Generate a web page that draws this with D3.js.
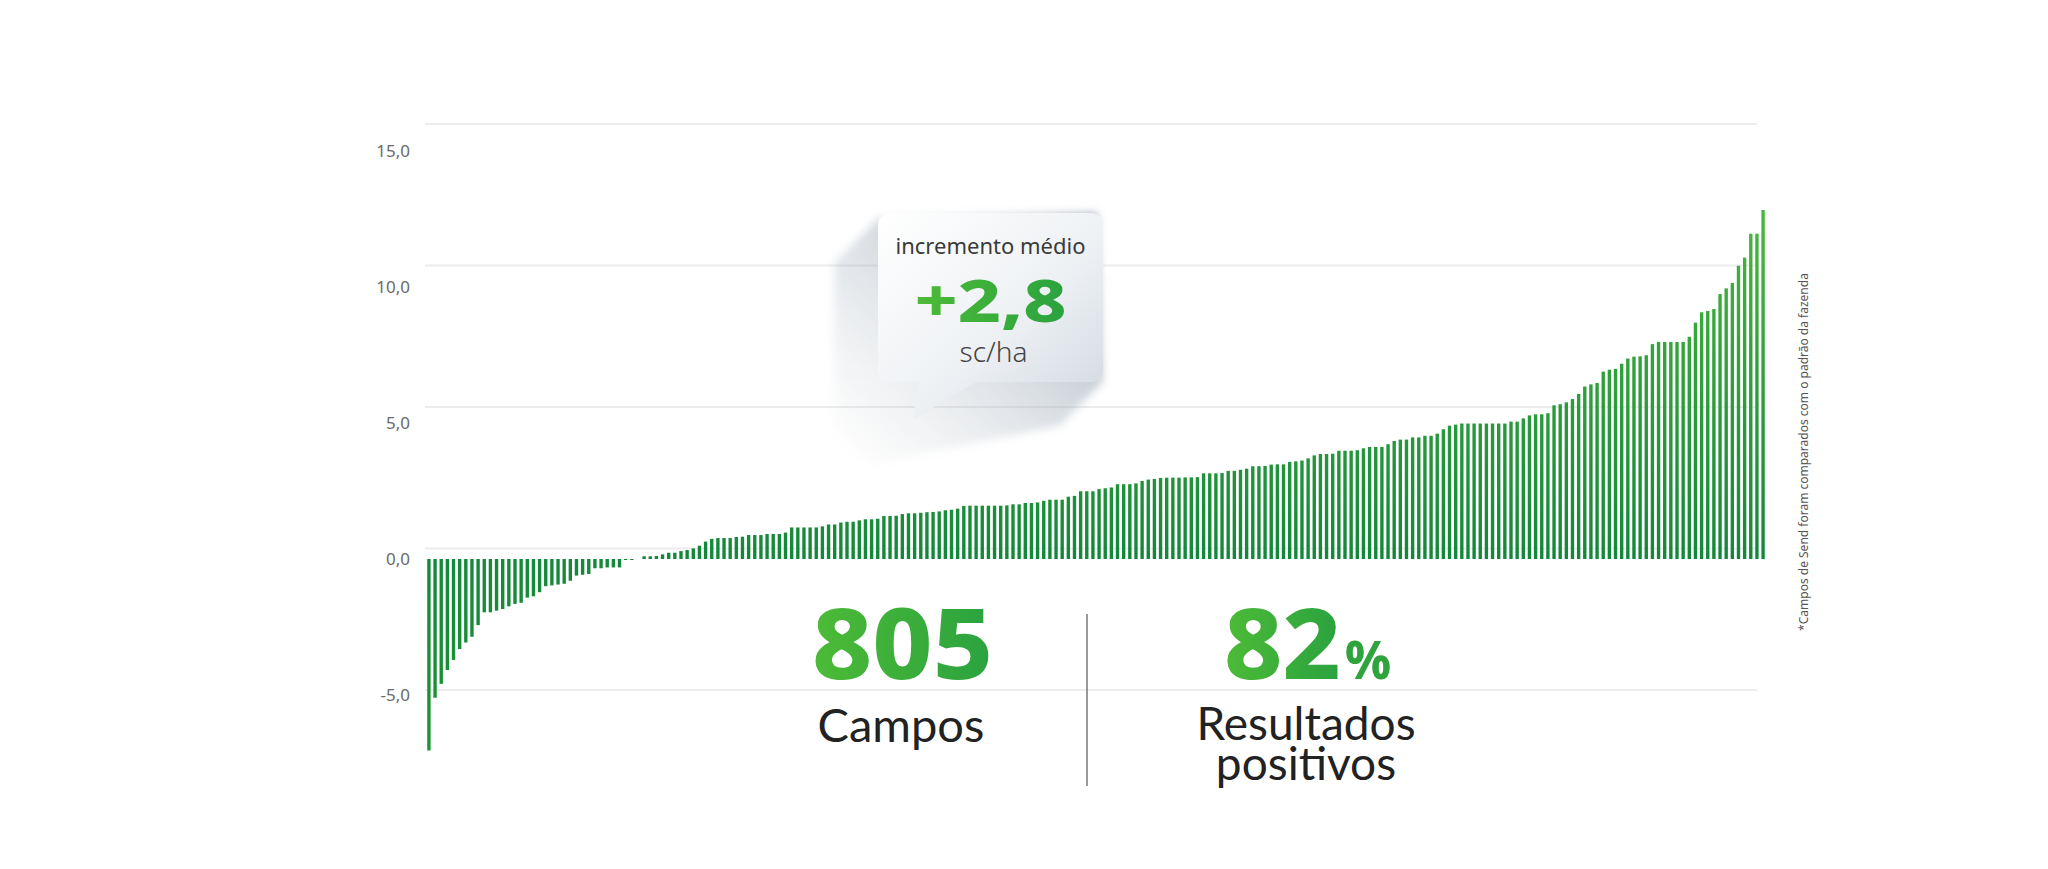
<!DOCTYPE html>
<html lang="pt-BR">
<head>
<meta charset="utf-8">
<title>Incremento médio</title>
<script src="https://cdn.jsdelivr.net/npm/d3@7"></script>
<style>
  html, body { margin: 0; padding: 0; background: #ffffff; }
  #chart { width: 2048px; height: 869px; }
  svg text { font-family: "Noto Sans", "DejaVu Sans", sans-serif; }
</style>
</head>
<body>
<div id="chart"></div>
<script>
// sorted field results (sc/ha) in four stretches
const fieldsLow = [
  -7.04, -5.10, -4.59, -4.08, -3.71, -3.31, -3.07, -2.86, -2.43, -1.96,
  -1.96, -1.90, -1.84, -1.74, -1.65, -1.61, -1.42, -1.37, -1.22, -1.00,
  -0.97, -0.94, -0.91, -0.80, -0.61, -0.58, -0.55, -0.34, -0.34, -0.31,
  -0.31, -0.31, -0.03, -0.03, 0.00, 0.10, 0.10, 0.11, 0.17, 0.23,
  0.23, 0.29, 0.33, 0.39
];
const fieldsMidLow = [
  0.49, 0.64, 0.74, 0.77, 0.77, 0.77, 0.81, 0.82, 0.88, 0.88,
  0.88, 0.92, 0.92, 0.92, 0.97, 1.16, 1.16, 1.16, 1.16, 1.16,
  1.20, 1.27, 1.27, 1.34, 1.37, 1.37, 1.42, 1.46, 1.46, 1.48,
  1.58, 1.58, 1.59, 1.65, 1.68, 1.68, 1.70, 1.72, 1.73, 1.75,
  1.79, 1.81, 1.85, 1.95, 1.96, 1.96, 1.96, 1.96, 1.96, 1.96,
  1.97, 2.01, 2.01, 2.06, 2.06, 2.08, 2.14, 2.18
];
const fieldsMidHigh = [
  2.18, 2.18, 2.29, 2.32, 2.49, 2.49, 2.49, 2.57, 2.60, 2.63,
  2.75, 2.75, 2.75, 2.78, 2.87, 2.92, 2.94, 2.98, 2.99, 2.99,
  2.99, 3.00, 3.00, 3.01, 3.15, 3.15, 3.15, 3.16, 3.24, 3.24,
  3.28, 3.32, 3.41, 3.41, 3.42, 3.47, 3.48, 3.48, 3.57, 3.59,
  3.62, 3.70, 3.81, 3.86, 3.86, 3.87, 3.98, 3.98, 3.98, 4.00,
  4.07, 4.12, 4.12, 4.12, 4.22, 4.34, 4.39, 4.39
];
const fieldsHigh = [
  4.47, 4.47, 4.53, 4.53, 4.61, 4.77, 4.90, 4.94, 4.98, 4.98,
  4.98, 4.98, 4.98, 4.98, 4.98, 4.98, 5.05, 5.05, 5.17, 5.28,
  5.32, 5.32, 5.36, 5.65, 5.69, 5.76, 5.88, 6.07, 6.34, 6.42,
  6.47, 6.89, 6.96, 6.99, 7.18, 7.37, 7.44, 7.45, 7.49, 7.90,
  7.98, 7.98, 7.98, 7.98, 7.98, 8.17, 8.69, 9.07, 9.12, 9.19,
  9.74, 9.95, 10.15, 10.78, 11.08, 11.96, 11.96, 12.83
];

const tickValues = [-5, 0, 5, 10, 15];

// headline figures
const averageLabel = ["incremento médio", "+2,8", "sc/ha"];
const fieldCount = ["805", "Campos"];
const positiveShare = ["82", "%", "Resultados", "positivos"];
const footnote = "*Campos de Send foram comparados com o padrão da fazenda";

document.addEventListener("DOMContentLoaded", () => {
  const width = 2048;
  const height = 869;
  const values = [...fieldsLow, ...fieldsMidLow, ...fieldsMidHigh, ...fieldsHigh];

  const svg = d3.select("#chart").append("svg").attr("width", width).attr("height", height);
  const defs = svg.append("defs");

  // comma decimals and a plain hyphen for negatives, like the original
  const fmt = d3.formatLocale({ decimal: ",", thousands: ".", grouping: [3], currency: ["R$", ""], minus: "-" }).format(".1f");

  // scales (the grid lines in the picture sit on a slightly different spacing than the labels)
  const x = d3.scaleBand().domain(d3.range(values.length)).range([426, 1766]).paddingInner(0.45).paddingOuter(0.2);
  const y = d3.scaleLinear().domain([-5, 15]).range([695, 151]);
  const gridY = d3.scaleLinear().domain([-5, 15]).range([690, 124]);

  // gradients
  const barGrad = defs.append("linearGradient").attr("id", "barGrad")
    .attr("gradientUnits", "userSpaceOnUse").attr("x1", 0).attr("x2", 0).attr("y1", y(13)).attr("y2", y(-7));
  barGrad.append("stop").attr("offset", "0%").attr("stop-color", "#49b83c");
  barGrad.append("stop").attr("offset", "64%").attr("stop-color", "#14883a");
  barGrad.append("stop").attr("offset", "100%").attr("stop-color", "#1c9432");

  const greenText = defs.append("linearGradient").attr("id", "greenText").attr("x1", 0).attr("x2", 1).attr("y1", 0).attr("y2", 0);
  greenText.append("stop").attr("offset", "0%").attr("stop-color", "#4dbb37");
  greenText.append("stop").attr("offset", "100%").attr("stop-color", "#2aa23f");

  const bubbleGrad = defs.append("linearGradient").attr("id", "bubbleGrad").attr("x1", 0).attr("y1", 0).attr("x2", 1).attr("y2", 1);
  bubbleGrad.append("stop").attr("offset", "0%").attr("stop-color", "#ffffff");
  bubbleGrad.append("stop").attr("offset", "55%").attr("stop-color", "#eef1f4");
  bubbleGrad.append("stop").attr("offset", "100%").attr("stop-color", "#d0d8e0");

  const shadowGrad = defs.append("linearGradient").attr("id", "shadowGrad").attr("x1", 1).attr("y1", 0).attr("x2", 0).attr("y2", 1);
  shadowGrad.append("stop").attr("offset", "0%").attr("stop-color", "#7d8b99").attr("stop-opacity", 0.75);
  shadowGrad.append("stop").attr("offset", "50%").attr("stop-color", "#9aa6b2").attr("stop-opacity", 0.35);
  shadowGrad.append("stop").attr("offset", "100%").attr("stop-color", "#c0c8d0").attr("stop-opacity", 0);

  defs.append("filter").attr("id", "soft").attr("x", "-30%").attr("y", "-30%").attr("width", "160%").attr("height", "160%")
    .append("feGaussianBlur").attr("stdDeviation", 4);

  // grid lines
  svg.append("g").selectAll("line").data(tickValues).join("line")
    .attr("x1", 425).attr("x2", 1757)
    .attr("y1", (d) => gridY(d)).attr("y2", (d) => gridY(d))
    .attr("stroke", "#ececec").attr("stroke-width", 2);

  // y axis labels
  const axis = svg.append("g").attr("transform", "translate(410,0)")
    .call(d3.axisLeft(y).tickValues(tickValues).tickFormat(fmt).tickSize(0).tickPadding(0));
  axis.select(".domain").remove();
  axis.selectAll("text").attr("font-size", 17).attr("fill", "#6a6a6a")
    .style("font-family", "'Noto Sans', sans-serif");

  // bars
  svg.append("g").selectAll("rect").data(values).join("rect")
    .attr("x", (d, i) => x(i))
    .attr("width", x.bandwidth())
    .attr("y", (d) => (d >= 0 ? y(d) : y(0)))
    .attr("height", (d) => Math.max(Math.abs(y(d) - y(0)), d === 0 ? 0 : 1))
    .attr("fill", "url(#barGrad)");

  // speech bubble
  const bx0 = 878, bx1 = 1103, by0 = 213, by1 = 382, r = 12;
  const tail = [[919, by1], [913, 420], [976, by1]];
  const drop = 44;

  const corners = [[bx0, by0 + 6], [bx1 - 6, by0], [bx1, by1], [bx0, by1], tail[1]];
  const hull = d3.polygonHull([...corners, ...corners.map(([px, py]) => [px - drop, py + drop])]);
  svg.append("path")
    .attr("d", "M" + hull.join("L") + "Z")
    .attr("fill", "url(#shadowGrad)")
    .attr("filter", "url(#soft)");

  const p = d3.path();
  p.moveTo(bx0 + r, by0);
  p.lineTo(bx1 - r, by0);
  p.arcTo(bx1, by0, bx1, by0 + r, r);
  p.lineTo(bx1, by1 - r);
  p.arcTo(bx1, by1, bx1 - r, by1, r);
  p.lineTo(tail[2][0], tail[2][1]);
  p.lineTo(tail[1][0], tail[1][1]);
  p.lineTo(tail[0][0], tail[0][1]);
  p.lineTo(bx0 + r, by1);
  p.arcTo(bx0, by1, bx0, by1 - r, r);
  p.lineTo(bx0, by0 + r);
  p.arcTo(bx0, by0, bx0 + r, by0, r);
  p.closePath();
  svg.append("path").attr("d", p.toString()).attr("fill", "url(#bubbleGrad)");

  const cx = (bx0 + bx1) / 2;
  svg.append("text").attr("x", cx).attr("y", 254).attr("text-anchor", "middle")
    .attr("font-size", 22).attr("fill", "#3a3a3a").text(averageLabel[0]);
  svg.append("text").attr("x", cx).attr("y", 322).attr("text-anchor", "middle")
    .attr("font-size", 58).attr("font-weight", 800).attr("fill", "url(#greenText)")
    .attr("textLength", 152).attr("lengthAdjust", "spacingAndGlyphs").text(averageLabel[1]);
  svg.append("text").attr("x", cx + 3).attr("y", 362).attr("text-anchor", "middle")
    .attr("font-size", 28).attr("font-weight", 300).attr("fill", "#444").text(averageLabel[2]);

  // headline numbers under the chart
  svg.append("text").attr("x", 812).attr("y", 679)
    .attr("font-size", 98).attr("font-weight", 800).attr("fill", "url(#greenText)")
    .attr("textLength", 181).attr("lengthAdjust", "spacingAndGlyphs").text(fieldCount[0]);
  svg.append("text").attr("x", 901).attr("y", 742).attr("text-anchor", "middle")
    .attr("font-size", 47).attr("fill", "#222").style("font-family", "Lato, 'Noto Sans', sans-serif")
    .text(fieldCount[1]);

  svg.append("line").attr("x1", 1087).attr("x2", 1087).attr("y1", 614).attr("y2", 786)
    .attr("stroke", "#777").attr("stroke-width", 1.5);

  svg.append("text").attr("x", 1224).attr("y", 679)
    .attr("font-size", 98).attr("font-weight", 800).attr("fill", "url(#greenText)")
    .attr("textLength", 117).attr("lengthAdjust", "spacingAndGlyphs").text(positiveShare[0]);
  svg.append("text").attr("x", 1345).attr("y", 679)
    .attr("font-size", 54).attr("font-weight", 800).attr("fill", "#2fa43c")
    .attr("textLength", 46).attr("lengthAdjust", "spacingAndGlyphs").text(positiveShare[1]);
  svg.append("text").attr("x", 1306).attr("y", 740).attr("text-anchor", "middle")
    .attr("font-size", 46).attr("fill", "#222").style("font-family", "Lato, 'Noto Sans', sans-serif")
    .text(positiveShare[2]);
  svg.append("text").attr("x", 1306).attr("y", 780).attr("text-anchor", "middle")
    .attr("font-size", 46).attr("fill", "#222").style("font-family", "Lato, 'Noto Sans', sans-serif")
    .text(positiveShare[3]);

  // side note
  svg.append("text").attr("transform", "translate(1808,452) rotate(-90)").attr("text-anchor", "middle")
    .attr("font-size", 12).attr("fill", "#555").text(footnote);
});
</script>
</body>
</html>
